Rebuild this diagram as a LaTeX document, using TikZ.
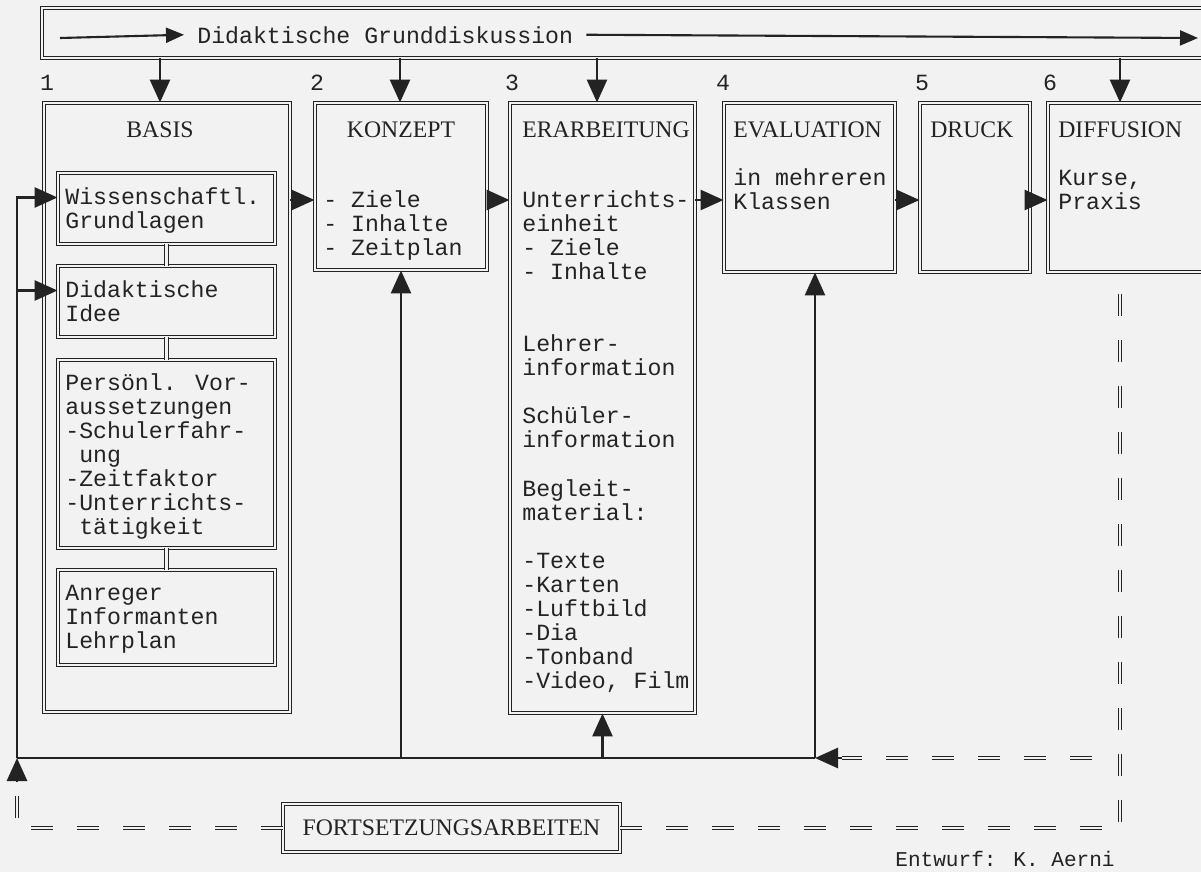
\documentclass[tikz,border=0pt]{standalone}
\usepackage{fontspec}
\setmainfont{Liberation Mono}
\newfontfamily\ttlfont{Liberation Serif}
\usetikzlibrary{arrows.meta, fit}
\definecolor{ink}{RGB}{35,35,35}
\definecolor{paper}{RGB}{242,242,242}
\newcommand\txtfont{\fontsize{13.2}{13.7}\selectfont}

\tikzset{
  dbox/.style={draw=ink, double=paper, double distance=1.4pt, line width=0.55pt, inner sep=0pt},
  dline/.style={draw=ink, double=paper, double distance=1.5pt, line width=0.6pt},
  dashdbl/.style={dline, dash pattern=on 0.44cm off 0.48cm},
  txt/.style={anchor=north west, align=left, inner sep=0pt, text=ink, font=\txtfont},
  ttl/.style={anchor=base west, inner sep=0pt, text=ink, font=\ttlfont\fontsize{13.5}{14}\selectfont},
  num/.style={anchor=base, inner sep=0pt, text=ink, font=\txtfont},
  arr/.style={ink, line width=1.6pt, -{Triangle[length=0.46cm, width=0.4cm]}},
  fb/.style={ink, line width=1.6pt}
}

\begin{document}
\begin{tikzpicture}[x=0.02cm, y=-0.02cm]
        \useasboundingbox (0,0) rectangle (1201,872);
        \fill[paper] (0,0) rectangle (1201,872);

        % banner
        \node[dbox, fit={(42,8) (1215,58)}] (banner) {};
        \node[txt, anchor=base west, inner xsep=0.26cm] (grund) at (184,43) {Didaktische Grunddiskussion};
        \coordinate (gl) at (60,38);
        \coordinate (gr) at (1198,38);
        \draw[arr, line width=1.2pt, -{Triangle[length=0.36cm, width=0.3cm]}] (gl) -- (grund.west);
        \draw[arr, line width=1.2pt, -{Triangle[length=0.36cm, width=0.3cm]}] (grund.east) -- (gr);

        % numbers
        \node[num] (n1) at (47,90) {1};
        \node[num] (n2) at (317,90) {2};
        \node[num] (n3) at (512,90) {3};
        \node[num] (n4) at (723,90) {4};
        \node[num] (n5) at (922,90) {5};
        \node[num] (n6) at (1050,90) {6};

        % main boxes
        \node[dbox, fit={(44,103) (290,712)}] (basis) {};
        \node[dbox, fit={(315,103) (487,270)}] (konzept) {};
        \node[dbox, fit={(510,103) (695,713)}] (erarb) {};
        \node[dbox, fit={(724,103) (895,272)}] (eval) {};
        \node[dbox, fit={(920,103) (1030,272)}] (druck) {};
        \node[dbox, fit={(1048,103) (1215,272)}] (diff) {};

        % titles
        \node[ttl, anchor=base] (tbasis) at (160,137) {BASIS};
        \node[ttl, anchor=base] (tkonzept) at (401,137) {KONZEPT};
        \node[ttl] (terarb) at (522,137) {ERARBEITUNG};
        \node[ttl] (teval) at (733,137) {EVALUATION};
        \node[ttl] (tdruck) at (930,137) {DRUCK};
        \node[ttl] (tdiff) at (1058,137) {DIFFUSION};

        % basis parts
        \node[dbox, fit={(58,173) (275,244)}] (b1) {};
        \node[dbox, fit={(58,266) (275,337)}] (b2) {};
        \node[dbox, fit={(58,360) (275,548)}] (b3) {};
        \node[dbox, fit={(58,570) (275,665)}] (b4) {};
        \draw[dline] (b1.south) -- (b2.north);
        \draw[dline] (b2.south) -- (b3.north);
        \draw[dline] (b3.south) -- (b4.north);

        \node[txt] (x1) at (65,187) {\strut Wissenschaftl.\\Grundlagen};
        \node[txt] (x2) at (65,280) {\strut Didaktische\\Idee};
        \node[txt] (x3) at (65,373) {\strut Pers\"onl. Vor-\\aussetzungen\\-Schulerfahr-\\\ ung\\-Zeitfaktor\\-Unterrichts-\\\ t\"atigkeit};
        \node[txt] (x4) at (65,583) {\strut Anreger\\Informanten\\Lehrplan};

        % texts of the steps
        \node[txt] (y2) at (323,190) {\strut - Ziele\\- Inhalte\\- Zeitplan};
        \node[txt] (y3) at (522,190) {\strut Unterrichts-\\einheit\\- Ziele\\- Inhalte\\[27.4pt]Lehrer-\\information\\[13.7pt]Sch\"uler-\\information\\[13.7pt]Begleit-\\material:\\[13.7pt]-Texte\\-Karten\\-Luftbild\\-Dia\\-Tonband\\-Video, Film};
        \node[txt] (y4) at (733,168) {\strut in mehreren\\Klassen};
        \node[txt] (y6) at (1058,168) {\strut Kurse,\\Praxis};

        % from the banner
        \foreach \x/\b in {160/basis, 400/konzept, 597/erarb, 1120/diff} {
            \coordinate (tmp) at (\x,0);
            \draw[arr] (banner.south -| tmp) -- (\b.north -| tmp);
        }

        % flow
        \coordinate (row) at (0,200);
        \draw[arr] (basis.east |- row) -- (konzept.west |- row);
        \draw[arr] (konzept.east |- row) -- (erarb.west |- row);
        \draw[arr] (erarb.east |- row) -- (eval.west |- row);
        \draw[arr] (eval.east |- row) -- (druck.west |- row);
        \draw[arr] (druck.east |- row) -- (diff.west |- row);

        % feedback
        \coordinate (fbl) at (17,758);
        \coordinate (fbr) at (815,758);
        \draw[fb] (fbl) -- (fbr);
        \draw[arr] (fbl) |- ([yshift=0.22cm]b1.west);
        \draw[arr] (fbl) |- ([yshift=0.22cm]b2.west);
        \draw[arr] (konzept.south |- fbl) -- (konzept.south);
        \draw[arr] (erarb.south |- fbl) -- (erarb.south);
        \draw[arr] (fbr) -- (fbr |- eval.south);

        % fortsetzung
        \node[dbox, minimum width=6.74cm, minimum height=0.96cm, text=ink, font=\ttlfont\fontsize{13.5}{14}\selectfont] (fort) at (451.5,828) {FORTSETZUNGSARBEITEN};
        \coordinate (lc) at (17,828);
        \coordinate (lup) at (17,782);
        \coordinate (rc) at (1120,828);
        \coordinate (rtop) at (1120,284);
        \coordinate (mr) at (1092,758);
        \coordinate (ml) at (842,758);
        \draw[dashdbl] (fort.west) -- (lc) -- (lup);
        \draw[arr] (lup) -- (fbl);
        \draw[dashdbl] (fort.east) -- (rc) -- (rtop);
        \draw[dashdbl] (mr) -- (ml);
        \draw[arr] (ml) -- (fbr);

        \node[txt, anchor=base west, font=\fontsize{12}{14}\selectfont] (autor) at (895,866) {Entwurf: K. Aerni};
\end{tikzpicture}
\end{document}
